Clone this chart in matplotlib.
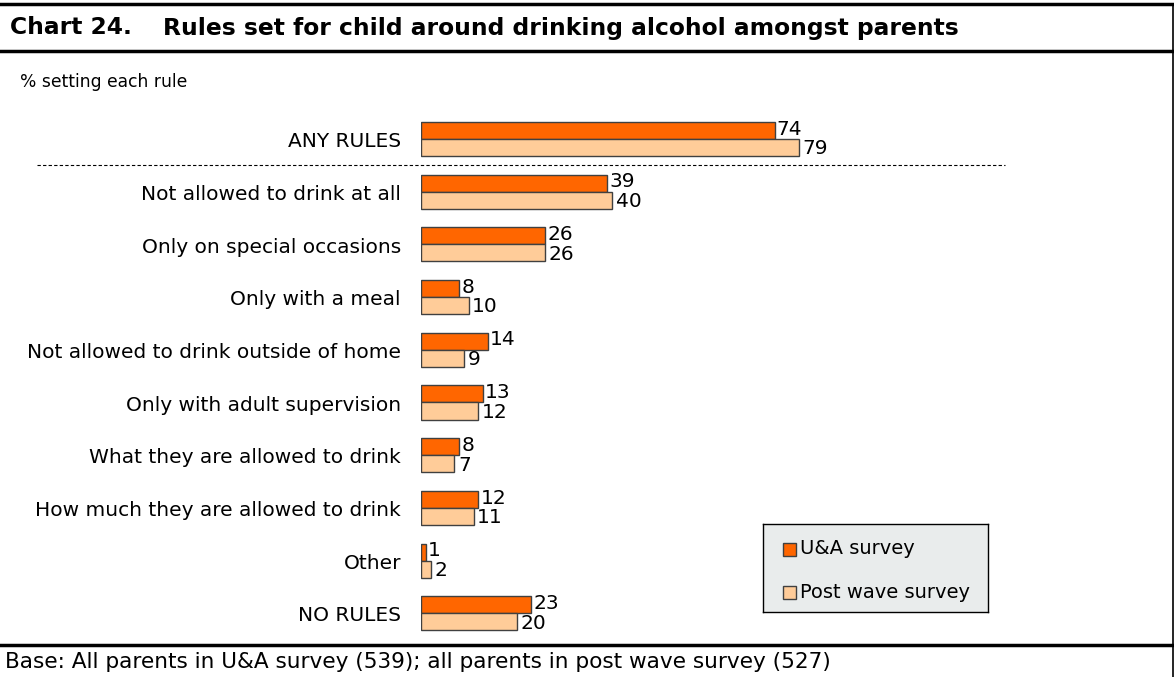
import matplotlib
matplotlib.use("Agg")
import matplotlib.pyplot as plt
from matplotlib.transforms import blended_transform_factory
from matplotlib.lines import Line2D
from matplotlib.patches import Rectangle
import numpy as np

categories = [
    "ANY RULES",
    "Not allowed to drink at all",
    "Only on special occasions",
    "Only with a meal",
    "Not allowed to drink outside of home",
    "Only with adult supervision",
    "What they are allowed to drink",
    "How much they are allowed to drink",
    "Other",
    "NO RULES",
]
ua_survey = [74, 39, 26, 8, 14, 13, 8, 12, 1, 23]
post_wave = [79, 40, 26, 10, 9, 12, 7, 11, 2, 20]
series_names = ["U&A survey", "Post wave survey"]

ORANGE = "#FF6600"
PEACH = "#FFCC99"
EDGE = "#404040"

W, H = 1174, 677
fig = plt.figure(figsize=(W / 100, H / 100), dpi=100)
plt.rcParams["font.family"] = ["DejaVu Sans"]

def fx(px):
    return px / W

def fy(py):
    return 1 - py / H

# Bar axes: 4.78 px per percentage point, one category per 52.7 px
ax_left, ax_right = 421, 1174
ax_top, ax_bot = 112.65, 639.65
ax = fig.add_axes([fx(ax_left), fy(ax_bot), (ax_right - ax_left) / W, (ax_bot - ax_top) / H])
ax.set_xlim(0, (ax_right - ax_left) / 4.78)
ax.set_ylim(len(categories) - 0.5, -0.5)
ax.axis("off")

y = np.arange(len(categories))
bh = 0.323
ax.barh(y - bh / 2, ua_survey, height=bh, color=ORANGE, edgecolor=EDGE, linewidth=1.0)
ax.barh(y + bh / 2, post_wave, height=bh, color=PEACH, edgecolor=EDGE, linewidth=1.0)

val_fs = 14.5
for yi, v in zip(y, ua_survey):
    ax.annotate(str(v), (v, yi - bh / 2), xytext=(1.5, 1), textcoords="offset points",
                va="center", ha="left", fontsize=val_fs, color="black")
for yi, v in zip(y, post_wave):
    ax.annotate(str(v), (v, yi + bh / 2), xytext=(2.5, -1), textcoords="offset points",
                va="center", ha="left", fontsize=val_fs, color="black")

# Category labels to the left of the bars
cat_fs = 14.5
cat_tr = blended_transform_factory(fig.transFigure, ax.transData)
for yi, c in zip(y, categories):
    ax.text(fx(401), yi + 0.05, c, transform=cat_tr, ha="right", va="center", fontsize=cat_fs)

# Dashed separator under the summary row
ax.add_line(Line2D([fx(37), fx(1005)], [0.5, 0.5], transform=cat_tr, color="black",
                   linestyle=(0, (3, 2)), linewidth=0.8, clip_on=False))

# Legend box
lg = fig.add_axes([fx(763), fy(612), (988 - 763) / W, (612 - 524) / H])
lg.set_xlim(0, 225)
lg.set_ylim(88, 0)
lg.set_xticks([])
lg.set_yticks([])
lg.set_facecolor("#E9ECEC")
for s in lg.spines.values():
    s.set_linewidth(1.0)
    s.set_color("black")
for (ty, col, name) in [(25, ORANGE, series_names[0]), (68, PEACH, series_names[1])]:
    lg.add_patch(Rectangle((20, ty - 6.5), 13, 13, facecolor=col, edgecolor=EDGE, linewidth=1.0))
    lg.text(37, ty, name, ha="left", va="center", fontsize=14)

# Frame, title and notes
for py, lw in [(4, 2.5), (51, 2.5), (645, 2.5)]:
    fig.add_artist(Line2D([0, 1], [fy(py), fy(py)], transform=fig.transFigure, color="black", linewidth=lw))
fig.add_artist(Line2D([fx(1172.5), fx(1172.5)], [fy(4), 0], transform=fig.transFigure, color="black", linewidth=1.2))

fig.text(fx(10), fy(28), "Chart 24.", fontsize=16.8, fontweight="bold", va="center", ha="left")
fig.text(fx(163), fy(28), "Rules set for child around drinking alcohol amongst parents",
         fontsize=16.8, fontweight="bold", va="center", ha="left")
fig.text(fx(20), fy(82), "% setting each rule", fontsize=12.3, va="center", ha="left")
fig.text(fx(5), fy(662), "Base: All parents in U&A survey (539); all parents in post wave survey (527)",
         fontsize=15.6, va="center", ha="left")

fig.savefig("out.png", dpi=100, facecolor="white")
